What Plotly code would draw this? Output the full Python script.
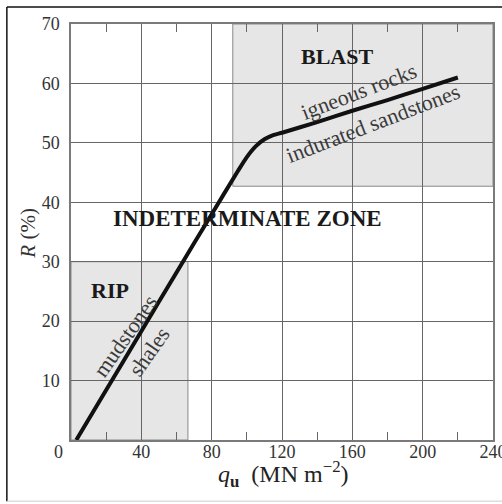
import plotly.graph_objects as go

# Data
curve_q = [3, 20, 40, 60, 80, 95, 100, 105, 110, 115, 120, 140, 160, 180, 200, 220]
curve_R = [0, 8.4, 18.3, 28.2, 38.0, 45.3, 47.6, 49.4, 50.6, 51.3, 51.7, 53.5, 55.4, 57.2, 59.1, 61.0]

rip_q = [0, 66.5]
rip_R = [0, 30]
blast_q = [92, 240]
blast_R = [42.7, 70]

x_ticks = [20, 40, 60, 80, 100, 120, 140, 160, 180, 200, 220, 240]
x_labels = ["", "40", "", "80", "", "120", "", "160", "", "200", "", "240"]
x_grid = [40, 80, 120, 160, 200, 240]
y_ticks = [10, 20, 30, 40, 50, 60, 70]

SERIF = "Liberation Serif, Times New Roman, serif"

fig = go.Figure()
fig.add_trace(go.Scatter(x=curve_q, y=curve_R, mode="lines",
                         line=dict(color="#111111", width=4, shape="spline", smoothing=0.6),
                         hoverinfo="skip", showlegend=False))

zone_fill = "#e6e6e6"
fig.add_shape(type="rect", xref="x", yref="y", x0=rip_q[0], x1=rip_q[1], y0=rip_R[0], y1=rip_R[1],
              fillcolor=zone_fill, line=dict(color="#8a8a8a", width=1), layer="below")
fig.add_shape(type="rect", xref="x", yref="y", x0=blast_q[0], x1=blast_q[1], y0=blast_R[0], y1=blast_R[1],
              fillcolor=zone_fill, line=dict(color="#8a8a8a", width=1), layer="below")

# outer frame (top and left dark, bottom light)
fig.add_shape(type="line", xref="paper", yref="paper", x0=-0.152, x1=1.03, y0=1.0409, y1=1.0409,
              line=dict(color="#111", width=1.5))
fig.add_shape(type="line", xref="paper", yref="paper", x0=-0.152, x1=-0.152, y0=1.0409, y1=-0.147,
              line=dict(color="#111", width=1.5))
fig.add_shape(type="line", xref="paper", yref="paper", x0=-0.152, x1=1.03, y0=-0.147, y1=-0.147,
              line=dict(color="#cccccc", width=1))

bold = dict(family=SERIF, size=22, color="#1a1a1a")
norm = dict(family=SERIF, size=22, color="#3a3a3a")
anns = [
    dict(x=151.5, y=64.5, text="<b>BLAST</b>", font=bold, textangle=0),
    dict(x=22.2, y=25.2, text="<b>RIP</b>", font=bold, textangle=0),
    dict(x=100.3, y=37.3, text="<b>INDETERMINATE ZONE</b>", font=dict(family=SERIF, size=23, color="#1a1a1a"), textangle=0),
    dict(x=163.6, y=58.6, text="igneous rocks", font=norm, textangle=-21),
    dict(x=171.5, y=53.3, text="indurated sandstones", font=norm, textangle=-21),
    dict(x=30.5, y=17.5, text="mudstones", font=norm, textangle=-55),
    dict(x=44.5, y=14.9, text="shales", font=norm, textangle=-55),
]
for a in anns:
    fig.add_annotation(xref="x", yref="y", showarrow=False, xanchor="center", yanchor="middle", **a)

# corner origin label and axis titles
fig.add_annotation(xref="paper", yref="paper", x=-0.029, y=-0.029, text="0", showarrow=False,
                   xanchor="center", yanchor="middle", font=dict(family=SERIF, size=18, color="#333"))
fig.add_annotation(xref="paper", yref="paper", x=0.503, y=-0.082, yanchor="middle", xanchor="center",
                   text="<i>q</i><sub><b>u</b></sub>  (MN m<sup>−2</sup>)", showarrow=False,
                   font=dict(family=SERIF, size=24, color="#222"))
fig.add_annotation(xref="paper", yref="paper", x=-0.101, y=0.497, xanchor="center", yanchor="middle",
                   text="<i>R</i> (%)", textangle=-90, showarrow=False,
                   font=dict(family=SERIF, size=21, color="#333"))

fig.update_layout(
    width=502, height=504,
    margin=dict(l=71, r=9, t=24, b=64),
    paper_bgcolor="white", plot_bgcolor="white",
    showlegend=False,
    xaxis=dict(range=[0, 240], tickvals=x_ticks, ticktext=x_labels,
               ticks="inside", ticklen=8, tickcolor="#666666", tickwidth=1,
               mirror="allticks", showline=True, linecolor="#7a7a7a", linewidth=1.5,
               showgrid=False, zeroline=False, automargin=False,
               ticklabelstandoff=-5, ticklabeloverflow="allow",
               tickfont=dict(family=SERIF, size=18, color="#333"),
               minor=dict(tickvals=x_grid, ticks="", showgrid=True,
                          gridcolor="#666666", gridwidth=1)),
    yaxis=dict(range=[0, 70], tickvals=y_ticks, ticktext=[str(v) for v in y_ticks],
               showgrid=True, gridcolor="#666666", gridwidth=1,
               showline=True, linecolor="#7a7a7a", linewidth=1.5, mirror=True,
               ticks="", zeroline=False, automargin=False,
               ticklabelstandoff=6,
               tickfont=dict(family=SERIF, size=18, color="#333")),
)

fig.write_html("out.html", config={"displayModeBar": False},
               post_script="document.body.style.margin='0';document.body.style.overflow='hidden';")
